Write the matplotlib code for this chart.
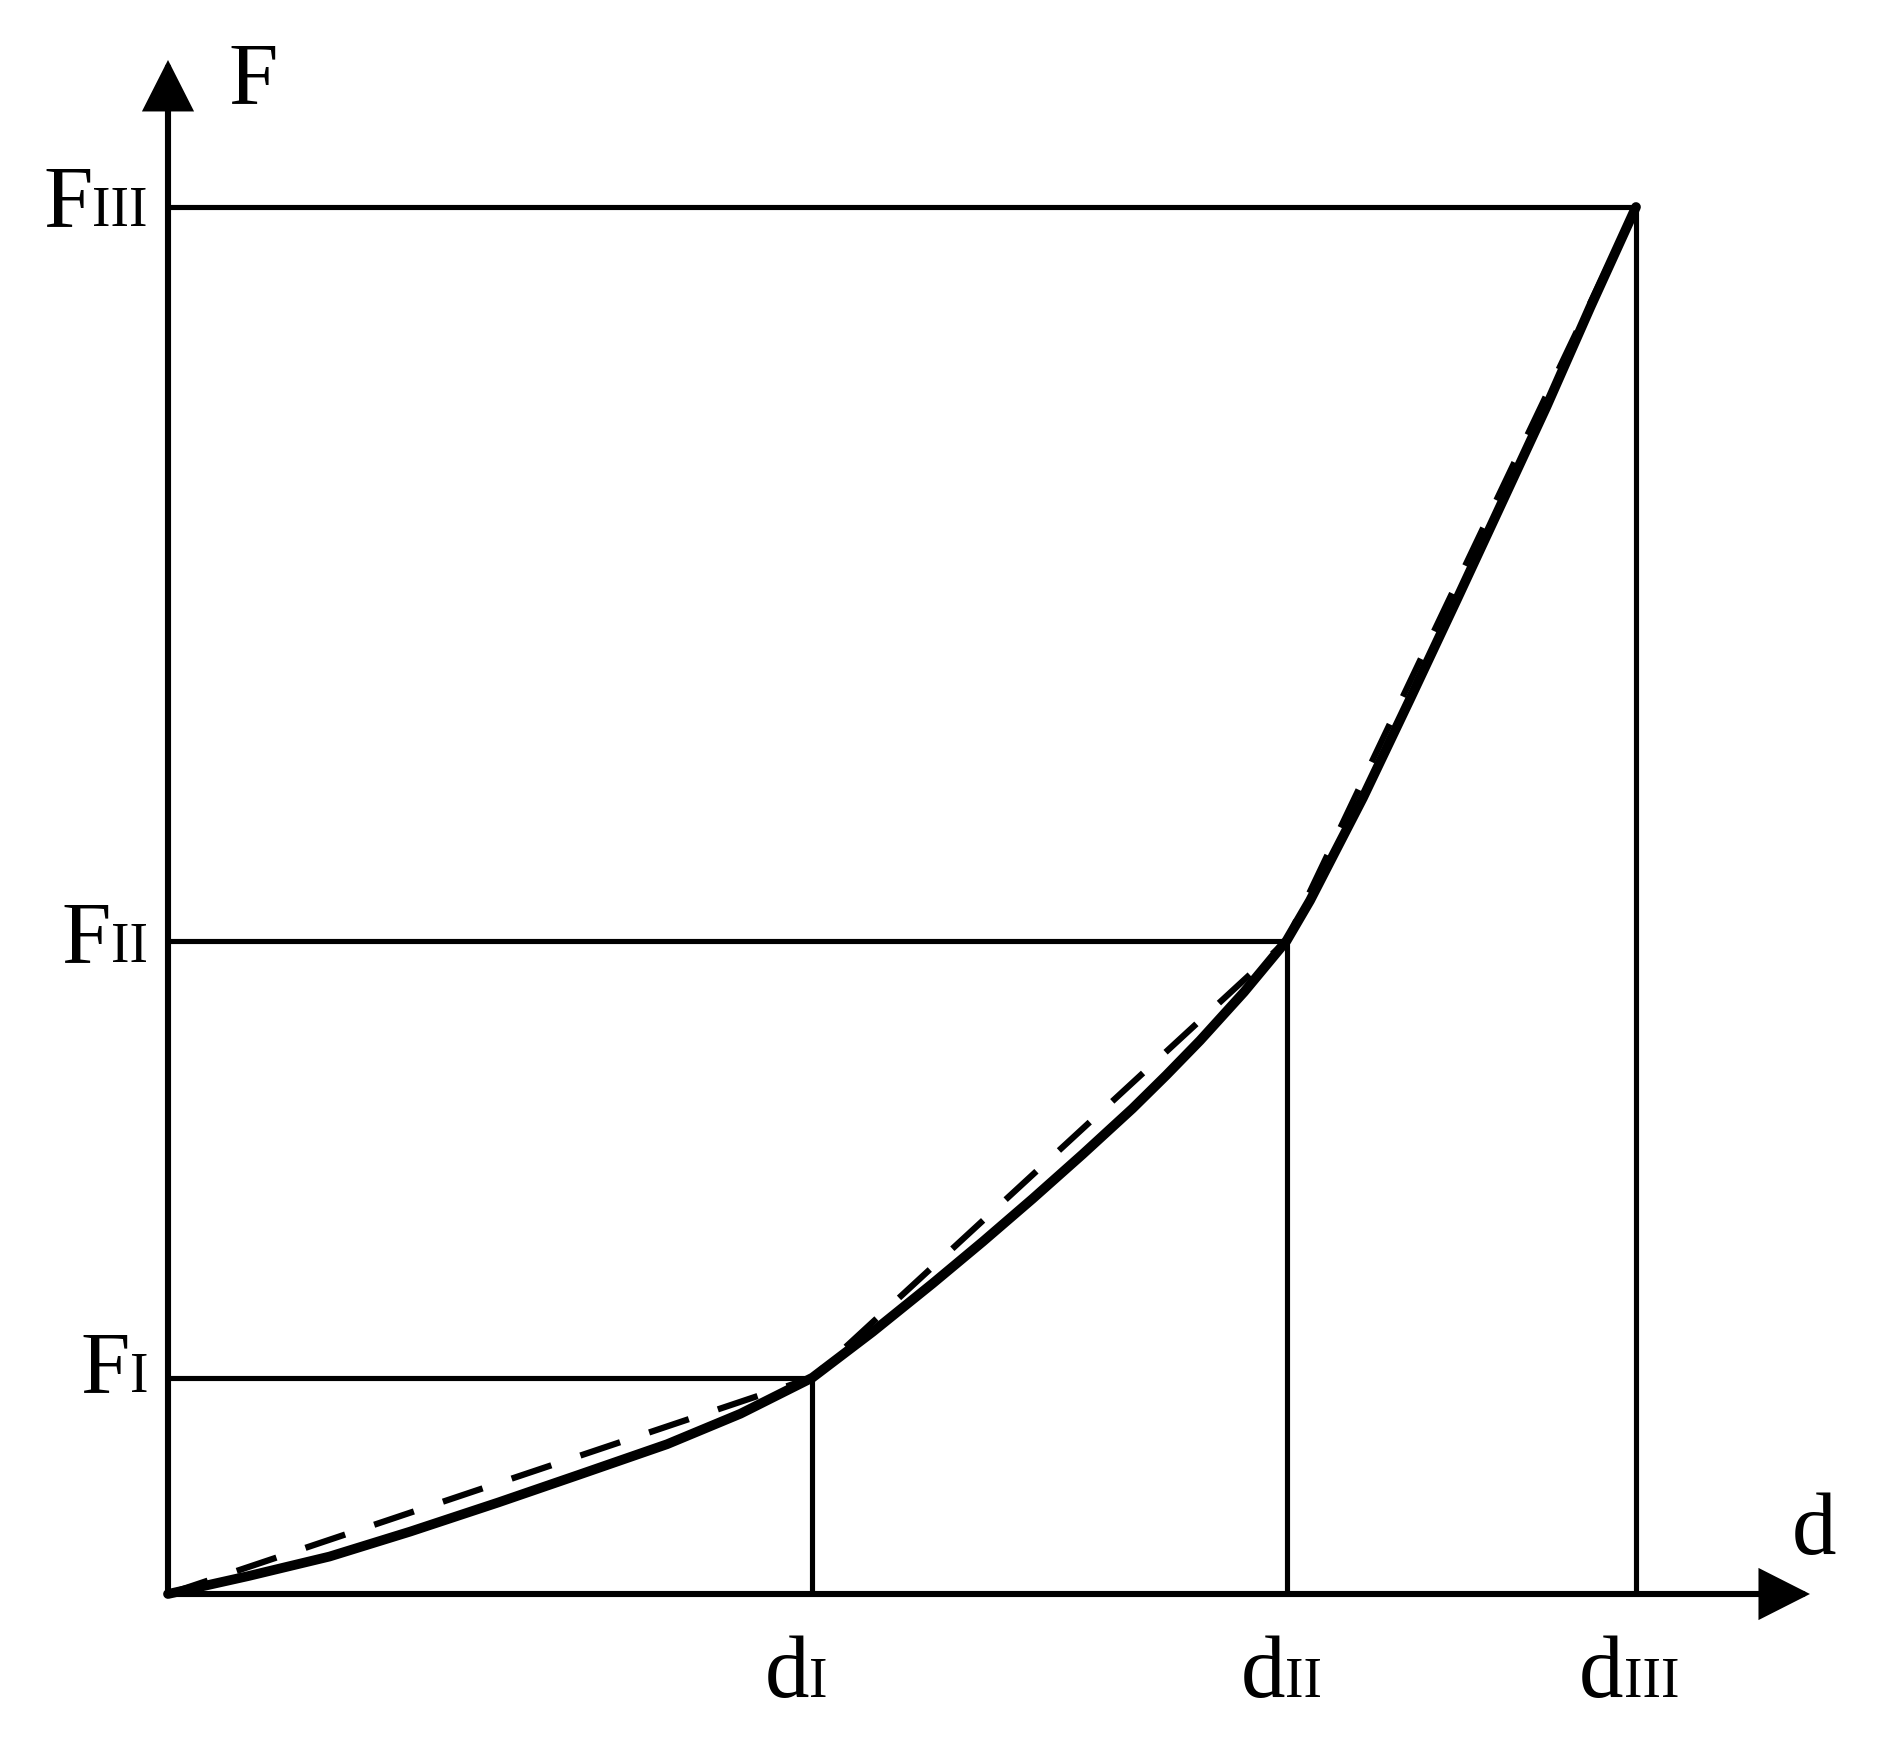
import matplotlib
matplotlib.use("Agg")
import matplotlib.pyplot as plt
import matplotlib.transforms as mtransforms

# characteristic points (normalised: dIII = 1, FIII = 1)
levels = ["I", "II", "III"]
d_vals = [0.439, 0.762, 1.0]
F_vals = [0.156, 0.471, 1.0]

# solid curve
curve_d = [0, 0.055, 0.110, 0.165, 0.225, 0.280, 0.340, 0.390, 0.439,
           0.480, 0.521, 0.555, 0.589, 0.623, 0.657, 0.680, 0.703, 0.733, 0.762,
           0.778, 0.795, 0.814, 0.846, 0.878, 0.907, 0.939, 0.969, 1.0]
curve_F = [0, 0.013, 0.027, 0.045, 0.066, 0.086, 0.108, 0.130, 0.156,
           0.189, 0.224, 0.254, 0.285, 0.317, 0.350, 0.374, 0.399, 0.434, 0.471,
           0.500, 0.535, 0.574, 0.645, 0.717, 0.783, 0.856, 0.928, 1.0]

# dashed polyline through the characteristic points
dash_d = [0] + d_vals
dash_F = [0] + F_vals

W, H = 1886, 1750
plt.rcParams['font.family'] = ['Liberation Serif', 'DejaVu Serif']
fig = plt.figure(figsize=(W / 100, H / 100), dpi=100)
ax = fig.add_axes([168 / W, 156 / H, 1468 / W, 1387 / H])
ax.set_xlim(0, 1)
ax.set_ylim(0, 1)
ax.axis('off')

def off(dx, dy):
    return mtransforms.offset_copy(ax.transData, fig=fig, x=dx, y=dy, units='dots')

# axes with arrows
arrow = dict(arrowstyle='-|>,head_length=0.75,head_width=0.38', mutation_scale=40,
             lw=4.4, color='black', shrinkA=0, shrinkB=0, joinstyle='miter')
ax.annotate('', xy=(1.1185, 0), xytext=(0, 0), arrowprops=arrow, annotation_clip=False)
ax.annotate('', xy=(0, 1.106), xytext=(0, 0), arrowprops=arrow, annotation_clip=False)

# guide lines
for d, F in zip(d_vals, F_vals):
    ax.plot([0, d], [F, F], color='black', lw=3.7, solid_capstyle='butt', clip_on=False)
    ax.plot([d, d], [0, F], color='black', lw=3.7, solid_capstyle='butt', clip_on=False)

# curves
ax.plot(dash_d, dash_F, color='black', lw=4.5, linestyle=(0, (6.7, 4.9)), clip_on=False, zorder=3)
ax.plot(curve_d, curve_F, color='black', lw=7, solid_joinstyle='round',
        solid_capstyle='round', clip_on=False, zorder=4)

big, small = 64, 40
fig.canvas.draw()
rend = fig.canvas.get_renderer()

def width(s, size):
    t = ax.text(0, 0, s, fontsize=size)
    w = t.get_window_extent(rend).width
    t.remove()
    return w

# F labels on the vertical axis
drops = [14, 21, 19]
for name, F, drop in zip(levels, F_vals, drops):
    ws = width(name, small)
    ax.text(0, F, name, fontsize=small, ha='right', va='baseline', transform=off(-20, -drop))
    ax.text(0, F, 'F', fontsize=big, ha='right', va='baseline', transform=off(-20 - ws, -drop))

# d labels under the horizontal axis
shifts = [-16, -5, -7]
for name, d, sh in zip(levels, d_vals, shifts):
    wd = width('d', big)
    ws = width(name, small)
    left = sh - (wd + ws) / 2
    ax.text(d, 0, 'd', fontsize=big, ha='left', va='baseline', transform=off(left, -103))
    ax.text(d, 0, name, fontsize=small, ha='left', va='baseline', transform=off(left + wd, -103))

# axis names
ax.text(0, 1.106, 'F', fontsize=big, ha='left', va='baseline', transform=off(60, -43))
ax.text(1.1185, 0, 'd', fontsize=big, ha='left', va='baseline', transform=off(-18, 40))

fig.savefig('out.png', dpi=100, facecolor='white')
